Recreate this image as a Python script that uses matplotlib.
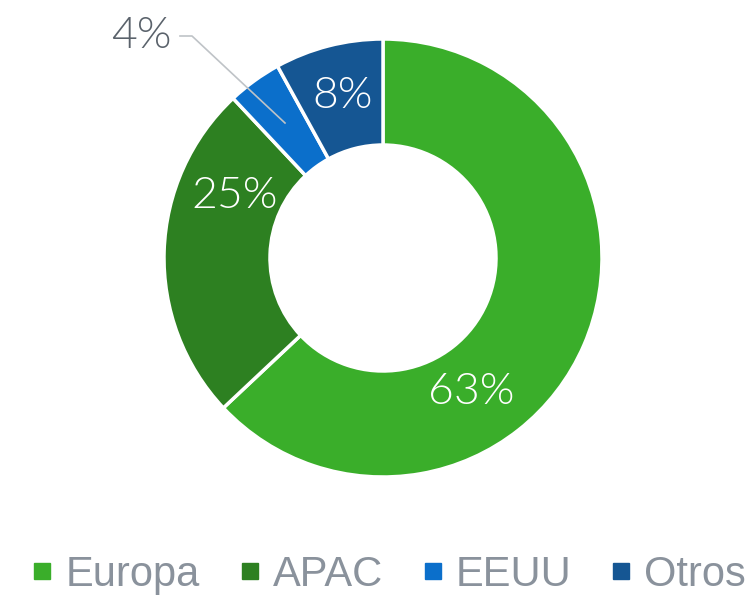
import matplotlib.pyplot as plt
from matplotlib.lines import Line2D

# data
regiones = ['Europa', 'APAC', 'EEUU', 'Otros']
valores = [63, 25, 4, 8]
colores = ['#3aae2a', '#2d8021', '#0b6fcb', '#155693']
etiquetas = ['63%', '25%', '4%', '8%']

W, H = 747, 596
fig = plt.figure(figsize=(W / 100, H / 100), dpi=100)
ax = fig.add_axes([0, 0, 1, 1])

cx, cy = 383, H - 258
r = 219
ax.pie(valores, colors=colores, startangle=90, counterclock=False,
       center=(cx, cy), radius=r, frame=True,
       wedgeprops=dict(width=106, edgecolor='white', linewidth=2.5))
ax.set_xlim(0, W)
ax.set_ylim(0, H)
ax.set_aspect('equal')
ax.axis('off')

# label positions (offset from centre, px)
pos = [(88, -134), (-148, 62), None, (-40, 161)]
fuente = dict(family=['Lato', 'DejaVu Sans'], fontweight=300, fontsize=32)
for p, t in zip(pos, etiquetas):
    if p is None:
        continue
    ax.text(cx + p[0], cy + p[1], t, color='white', ha='center', va='center', **fuente)

# EEUU label outside with leader line
ax.plot([cx - 98, cx - 191, cx - 203], [cy + 135, cy + 222, cy + 222],
        color='#bfc3c7', lw=1.2)
ax.text(cx - 242, cy + 221, etiquetas[2], color='#5a626b', ha='center', va='center', **fuente)

handles = [Line2D([], [], marker='s', ls='none', markersize=12, color=c) for c in colores]
fig.legend(handles, regiones, loc='center left', bbox_to_anchor=(32 / W, 1 - 575 / H), ncol=4,
           frameon=False, handletextpad=0.3, columnspacing=0.95, handlelength=0.5,
           borderpad=0, borderaxespad=0,
           prop=dict(family=['Liberation Sans', 'DejaVu Sans'], size=30),
           labelcolor='#8a929c')

fig.savefig('out.png', dpi=100)
